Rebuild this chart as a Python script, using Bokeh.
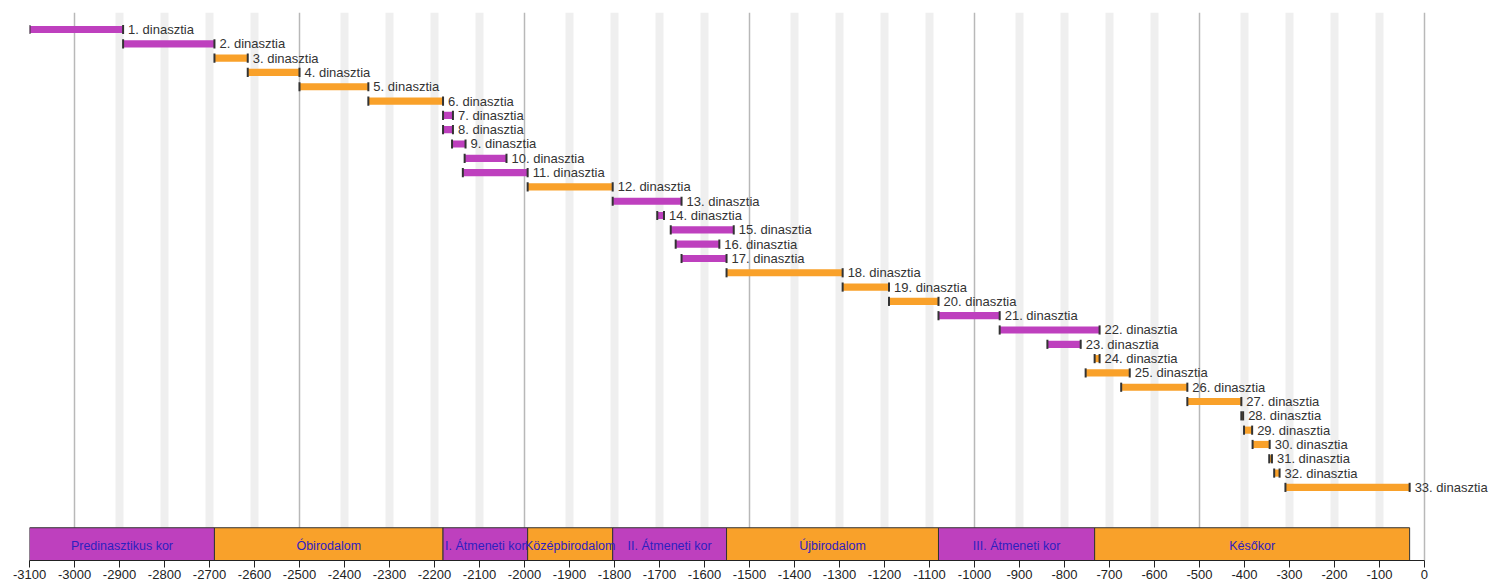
from bokeh.plotting import figure
from bokeh.models import Range1d, FixedTicker, Grid, ColumnDataSource
from bokeh.core.properties import value
from bokeh.embed import file_html
from bokeh.resources import INLINE

# ---- data ----
dyn_labels = ["1. dinasztia", "2. dinasztia", "3. dinasztia", "4. dinasztia", "5. dinasztia",
              "6. dinasztia", "7. dinasztia", "8. dinasztia", "9. dinasztia", "10. dinasztia",
              "11. dinasztia", "12. dinasztia", "13. dinasztia", "14. dinasztia", "15. dinasztia",
              "16. dinasztia", "17. dinasztia", "18. dinasztia", "19. dinasztia", "20. dinasztia",
              "21. dinasztia", "22. dinasztia", "23. dinasztia", "24. dinasztia", "25. dinasztia",
              "26. dinasztia", "27. dinasztia", "28. dinasztia", "29. dinasztia", "30. dinasztia",
              "31. dinasztia", "32. dinasztia", "33. dinasztia"]
dyn_start = [-3100, -2892, -2689, -2615, -2500, -2347, -2181, -2181, -2161, -2133,
             -2137, -1993, -1804, -1705, -1675, -1664, -1651, -1551, -1293, -1190,
             -1080, -944, -838, -733, -753, -674, -527, -407, -401, -382,
             -345, -334, -309]
dyn_end = [-2892, -2689, -2615, -2500, -2347, -2181, -2159, -2159, -2131, -2040,
           -1993, -1804, -1651, -1690, -1535, -1567, -1551, -1293, -1190, -1080,
           -944, -722, -764, -722, -655, -527, -407, -403, -383, -344,
           -339, -322, -33]
dyn_kind = ["átmeneti", "átmeneti", "birodalom", "birodalom", "birodalom", "birodalom",
            "átmeneti", "átmeneti", "átmeneti", "átmeneti", "átmeneti", "birodalom",
            "átmeneti", "átmeneti", "átmeneti", "átmeneti", "átmeneti", "birodalom",
            "birodalom", "birodalom", "átmeneti", "átmeneti", "átmeneti", "birodalom",
            "birodalom", "birodalom", "birodalom", "birodalom", "birodalom", "birodalom",
            "birodalom", "birodalom", "birodalom"]

per_labels = ["Predinasztikus kor", "Óbirodalom", "I. Átmeneti kor", "Középbirodalom",
              "II. Átmeneti kor", "Újbirodalom", "III. Átmeneti kor", "Későkor"]
per_start = [-3100, -2689, -2181, -1993, -1804, -1551, -1080, -733]
per_end = [-2689, -2181, -1993, -1804, -1551, -1080, -733, -33]
per_kind = ["átmeneti", "birodalom", "átmeneti", "birodalom", "átmeneti", "birodalom",
            "átmeneti", "birodalom"]

x_ticks = list(range(-3100, 1, 100))
major_lines = [-3000, -2500, -2000, -1500, -1000, -500, 0]

# ---- styling ----
PURPLE = "#BE40BE"
ORANGE = "#F9A12A"
col = {"átmeneti": PURPLE, "birodalom": ORANGE}

rows = list(range(1, len(dyn_labels) + 1))
band_top, band_bot = 35.82, 38.11

p = figure(output_backend="svg", toolbar_location=None,
           frame_width=1461, frame_height=548,
           x_range=Range1d(-3100, 146.7), y_range=Range1d(band_bot, -0.19),
           min_border_left=29, min_border_top=12, min_border_right=0,
           background_fill_color="white", border_fill_color="white")
p.outline_line_color = None
p.yaxis.visible = False
p.xgrid.visible = False
p.ygrid.visible = False

minor_lines = [t for t in x_ticks if t not in major_lines and t != -3100]
p.add_layout(Grid(dimension=0, ticker=FixedTicker(ticks=minor_lines),
                  grid_line_color="#efefef", grid_line_width=8))
p.add_layout(Grid(dimension=0, ticker=FixedTicker(ticks=major_lines),
                  grid_line_color="#b8b8b8", grid_line_width=1.5))
p.add_layout(Grid(dimension=0, ticker=FixedTicker(ticks=[-3100]),
                  grid_line_color="#333333", grid_line_width=1.5))

src = ColumnDataSource(dict(y=rows, left=dyn_start, right=dyn_end, label=dyn_labels,
                            color=[col[k] for k in dyn_kind],
                            y0=[r - 0.32 for r in rows], y1=[r + 0.32 for r in rows]))
p.hbar(y="y", left="left", right="right", height=0.5, fill_color="color",
       line_color=None, source=src)
p.segment(x0="left", x1="left", y0="y0", y1="y1", line_color="#333333", line_width=2, source=src)
p.segment(x0="right", x1="right", y0="y0", y1="y1", line_color="#333333", line_width=2, source=src)
p.text(x="right", y="y", text="label", x_offset=5, text_baseline="middle",
       text_font=value("Liberation Sans"), text_font_size="13px", text_color="#333333",
       source=src)

psrc = ColumnDataSource(dict(left=per_start, right=per_end, label=per_labels,
                             color=[col[k] for k in per_kind],
                             mid=[(a + b) / 2 for a, b in zip(per_start, per_end)],
                             ym=[(band_top + band_bot) / 2 + 0.1] * len(per_labels),
                             top=[band_top] * len(per_labels),
                             bottom=[band_bot] * len(per_labels)))
p.quad(left="left", right="right", top="top", bottom="bottom", fill_color="color",
       line_color="#333333", line_width=1, source=psrc)
p.text(x="mid", y="ym", text="label", text_align="center", text_baseline="middle",
       text_font=value("Liberation Sans"), text_font_size="12.5px", text_color="#2e20c0",
       source=psrc)

ax = p.xaxis[0]
ax.ticker = FixedTicker(ticks=x_ticks)
ax.bounds = (-3100, 0)
ax.major_label_overrides = {t: str(t) for t in x_ticks}
ax.axis_line_color = "#222222"
ax.major_tick_line_color = "#222222"
ax.major_tick_in = 0
ax.major_tick_out = 7
ax.minor_tick_line_color = None
ax.major_label_standoff = 2
ax.major_label_text_font = "Liberation Sans"
ax.major_label_text_font_size = "13px"
ax.major_label_text_color = "#222222"

open("out.html", "w").write(file_html(p, INLINE))
